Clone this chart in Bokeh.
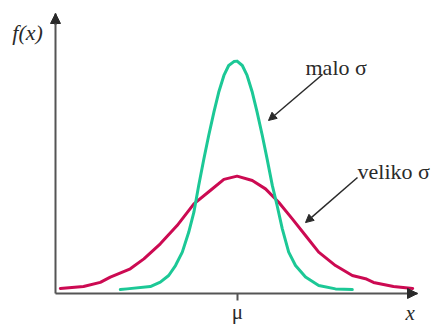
from bokeh.plotting import figure
from bokeh.models import Range1d, Label, Arrow, NormalHead, FixedTicker
from bokeh.embed import file_html
from bokeh.resources import INLINE

# Mean position on the horizontal axis
MU = 0.0

# Narrow density curve ("malo σ")
narrow_x = [-2.93, -2.76, -2.18, -1.93, -1.72, -1.55, -1.38, -1.22, -1.09, -0.97,
            -0.84, -0.72, -0.59, -0.47, -0.34, -0.22, -0.09, -0.01, 0.12, 0.24,
            0.37, 0.49, 0.62, 0.74, 0.87, 0.99, 1.12, 1.28, 1.45, 1.70,
            2.03, 2.45, 2.87]
narrow_y = [0.017, 0.020, 0.030, 0.049, 0.078, 0.121, 0.179, 0.265, 0.352, 0.468,
            0.583, 0.684, 0.785, 0.871, 0.944, 0.987, 1.004, 1.006, 0.987, 0.944,
            0.871, 0.785, 0.684, 0.583, 0.468, 0.381, 0.280, 0.179, 0.121, 0.071,
            0.035, 0.020, 0.017]

# Wide density curve ("veliko σ")
wide_x = [-4.43, -3.85, -3.43, -3.18, -2.68, -2.34, -1.93, -1.51, -1.09, -0.68,
          -0.34, -0.01, 0.37, 0.70, 1.03, 1.37, 1.70, 2.03, 2.45, 2.87,
          3.20, 3.40, 3.90, 4.38]
wide_y = [0.022, 0.030, 0.048, 0.071, 0.107, 0.150, 0.215, 0.294, 0.388, 0.446,
          0.494, 0.508, 0.489, 0.453, 0.395, 0.323, 0.251, 0.179, 0.121, 0.078,
          0.064, 0.048, 0.030, 0.022]

GREEN = "#1cc896"
CRIMSON = "#cc0a52"
AXIS = "#555555"
INK = "#2a2a2a"
SERIF = "Liberation Serif"

# Visible data window (the plot frame fills the whole canvas)
X_MIN, X_MAX = -5.925, 4.875
Y_MIN, Y_MAX = -0.1342, 1.2684
# Extent of the drawn axes
AX_X0, AX_X1 = -4.55, 4.5
AX_Y0, AX_Y1 = 0.0, 1.2121

p = figure(width=432, height=324, output_backend="svg", toolbar_location=None,
           x_range=Range1d(X_MIN, X_MAX), y_range=Range1d(Y_MIN, Y_MAX),
           min_border=0)
p.outline_line_color = None
p.grid.visible = False
p.background_fill_color = "white"
p.border_fill_color = "white"

# Horizontal axis crossing at y = 0, single tick at the mean
p.xaxis.fixed_location = 0
p.xaxis.bounds = (AX_X0, AX_X1)
p.xaxis.ticker = FixedTicker(ticks=[MU])
p.xaxis.major_label_overrides = {MU: "μ"}
p.xaxis.major_label_text_font = SERIF
p.xaxis.major_label_text_font_size = "21px"
p.xaxis.major_label_text_color = INK
p.xaxis.major_label_standoff = 0
p.xaxis.major_tick_in = 0
p.xaxis.major_tick_out = 7
p.xaxis.minor_tick_line_color = None
p.xaxis.axis_line_color = AXIS
p.xaxis.axis_line_width = 2
p.xaxis.major_tick_line_color = AXIS
p.xaxis.major_tick_line_width = 2

# Vertical axis: bare line at the left edge of the curves' domain
p.yaxis.fixed_location = AX_X0
p.yaxis.bounds = (AX_Y0, AX_Y1)
p.yaxis.ticker = FixedTicker(ticks=[])
p.yaxis.major_tick_line_color = None
p.yaxis.minor_tick_line_color = None
p.yaxis.major_label_text_font_size = "0px"
p.yaxis.axis_line_color = AXIS
p.yaxis.axis_line_width = 2

# Arrow heads at the axis ends
p.add_layout(Arrow(x_start=AX_X0, y_start=AX_Y1 - 0.05, x_end=AX_X0, y_end=AX_Y1,
                   line_color=AXIS, line_width=2,
                   end=NormalHead(size=10, fill_color=INK, line_color=INK)))
p.add_layout(Arrow(x_start=AX_X1 - 0.2, y_start=AX_Y0, x_end=AX_X1, y_end=AX_Y0,
                   line_color=AXIS, line_width=2,
                   end=NormalHead(size=10, fill_color=INK, line_color=INK)))

# Density curves
p.line(wide_x, wide_y, line_color=CRIMSON, line_width=3, line_join="round", line_cap="round")
p.line(narrow_x, narrow_y, line_color=GREEN, line_width=3, line_join="round", line_cap="round")

# Axis names
p.add_layout(Label(x=-5.63, y=1.13, text="f(x)", text_font=SERIF, text_font_style="italic",
                   text_font_size="22px", text_color=INK, text_baseline="alphabetic"))
p.add_layout(Label(x=4.2, y=-0.085, text="x", text_font=SERIF, text_font_style="italic",
                   text_font_size="21px", text_color=INK, text_baseline="alphabetic"))

# Annotations with pointers
p.add_layout(Label(x=1.7, y=0.978, text="malo σ", text_font=SERIF,
                   text_font_size="22px", text_color=INK, text_baseline="alphabetic"))
p.add_layout(Arrow(x_start=2.125, y_start=0.948, x_end=0.775, y_end=0.749,
                   line_color=INK, line_width=1.5,
                   end=NormalHead(size=8, fill_color=INK, line_color=INK)))
p.add_layout(Label(x=3.0, y=0.528, text="veliko σ", text_font=SERIF,
                   text_font_size="22px", text_color=INK, text_baseline="alphabetic"))
p.add_layout(Arrow(x_start=3.0, y_start=0.502, x_end=1.7, y_end=0.307,
                   line_color=INK, line_width=1.5,
                   end=NormalHead(size=8, fill_color=INK, line_color=INK)))

open("out.html", "w").write(file_html(p, INLINE))
